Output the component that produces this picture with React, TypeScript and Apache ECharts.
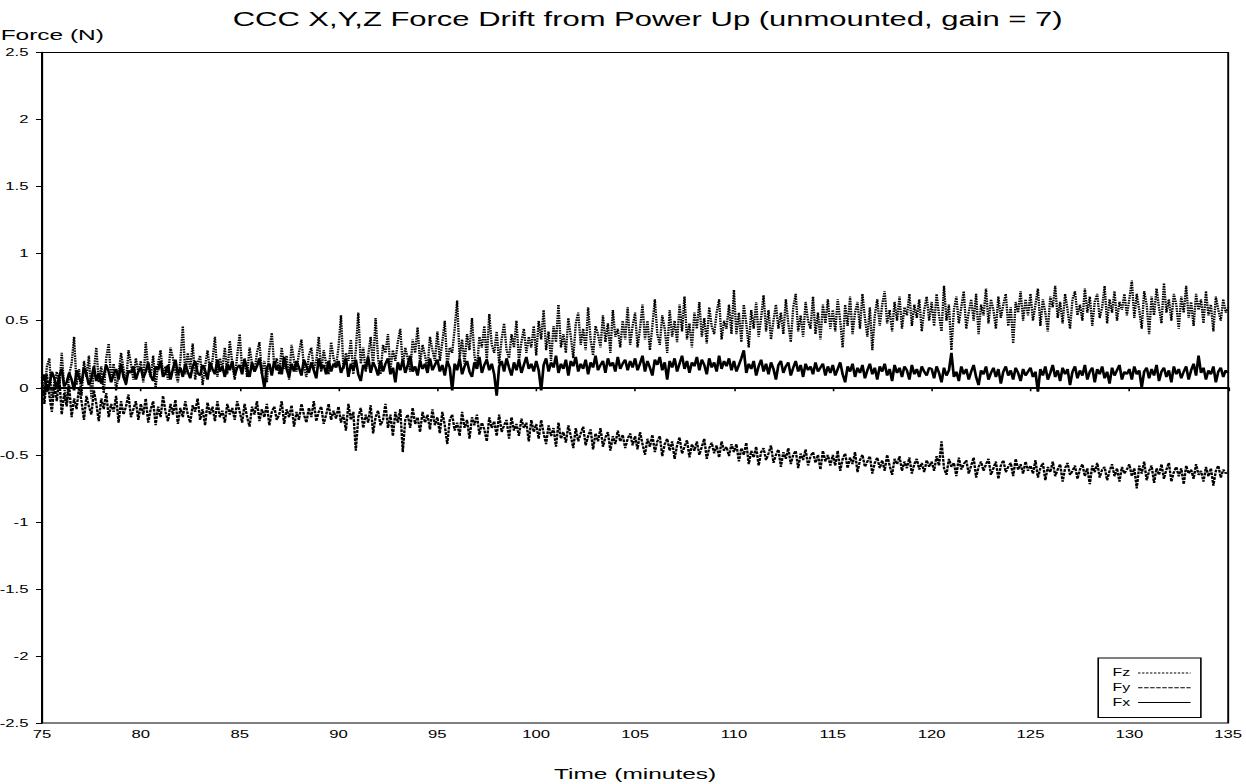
import React, { useEffect, useRef } from "react";
import * as echarts from "echarts";

const TITLE = "CCC X,Y,Z Force Drift from Power Up (unmounted, gain = 7)";
const X_NAME = "Time (minutes)";
const Y_NAME = "Force (N)";
const X_MIN = 75;
const X_MAX = 135;
const X_STEP = 5;
const Y_MIN = -2.5;
const Y_MAX = 2.5;
const Y_STEP = 0.5;
const T_START = 75;
const T_STEP = 0.125;
const SERIES_NAMES = ["Fz", "Fy", "Fx"];

const fz = [
  0.08, -0.06, 0.16, 0.22, -0.1, 0.04, 0.12, -0.02, 0.26, 0.0, -0.12, 0.1, 0.18, 0.38, 0.02, 0.14, -0.06, 0.2, 0.08, 0.24,
  -0.08, 0.12, 0.3, 0.04, 0.16, -0.04, 0.22, 0.33, 0.06, 0.18, -0.02, 0.1, 0.26, 0.14, 0.02, 0.28, 0.18, 0.06, 0.22, 0.12,
  0.2, 0.04, 0.34, 0.14, 0.08, 0.24, 0.0, 0.18, 0.28, 0.1, 0.16, 0.06, 0.3, 0.22, 0.12, 0.04, 0.2, 0.46, 0.1, 0.26,
  0.14, 0.33, 0.06, 0.18, 0.24, 0.02, 0.16, 0.28, 0.12, 0.2, 0.38, 0.08, 0.22, 0.14, 0.3, 0.1, 0.35, 0.18, 0.06, 0.24,
  0.4, 0.14, 0.22, 0.08, 0.3, 0.18, 0.12, 0.26, 0.34, 0.1, 0.2, 0.04, 0.28, 0.41, 0.16, 0.22, 0.1, 0.3, 0.14, 0.24,
  0.06, 0.32, 0.2, 0.12, 0.26, 0.36, 0.16, 0.08, 0.24, 0.3, 0.14, 0.2, 0.38, 0.12, 0.28, 0.18, 0.1, 0.34, 0.22, 0.16,
  0.3, 0.54, 0.14, 0.26, 0.2, 0.36, 0.1, 0.28, 0.56, 0.18, 0.3, 0.12, 0.24, 0.38, 0.16, 0.52, 0.22, 0.1, 0.32, 0.26,
  0.4, 0.14, 0.28, 0.2, 0.34, 0.44, 0.16, 0.3, 0.22, 0.12, 0.36, 0.26, 0.45, 0.18, 0.32, 0.24, 0.14, 0.38, 0.28, 0.2,
  0.42, 0.2, 0.34, 0.5, 0.16, 0.3, 0.26, 0.44, 0.65, 0.22, 0.36, 0.18, 0.4, 0.28, 0.52, 0.24, 0.14, 0.38, 0.3, 0.46,
  0.2, 0.55, 0.32, 0.26, 0.42, 0.18, 0.36, 0.48, 0.28, 0.22, 0.4, 0.3, 0.5, 0.2, 0.34, 0.44, 0.26, 0.38, 0.3, 0.46,
  0.24, 0.5, 0.36, 0.58, 0.28, 0.42, 0.2, 0.46, 0.34, 0.62, 0.3, 0.4, 0.26, 0.52, 0.38, 0.22, 0.48, 0.56, 0.32, 0.44,
  0.28, 0.6, 0.36, 0.24, 0.46, 0.4, 0.3, 0.54, 0.34, 0.48, 0.26, 0.58, 0.38, 0.44, 0.3, 0.5, 0.36, 0.6, 0.32, 0.46,
  0.56, 0.3, 0.44, 0.62, 0.36, 0.5, 0.28, 0.46, 0.66, 0.4, 0.32, 0.54, 0.44, 0.26, 0.58, 0.38, 0.5, 0.34, 0.62, 0.42,
  0.68, 0.36, 0.48, 0.3, 0.56, 0.44, 0.64, 0.38, 0.52, 0.33, 0.6, 0.46, 0.4, 0.56, 0.66, 0.36, 0.5, 0.44, 0.62, 0.4,
  0.73, 0.4, 0.56, 0.34, 0.62, 0.48, 0.3, 0.58, 0.44, 0.64, 0.38, 0.52, 0.69, 0.42, 0.58, 0.36, 0.5, 0.62, 0.44, 0.56,
  0.4, 0.66, 0.48, 0.34, 0.6, 0.7, 0.42, 0.54, 0.38, 0.64, 0.5, 0.44, 0.68, 0.4, 0.56, 0.36, 0.62, 0.48, 0.66, 0.44,
  0.58, 0.42, 0.66, 0.5, 0.3, 0.62, 0.46, 0.68, 0.4, 0.56, 0.64, 0.44, 0.7, 0.52, 0.38, 0.6, 0.28, 0.54, 0.66, 0.46,
  0.62, 0.72, 0.48, 0.58, 0.42, 0.64, 0.5, 0.68, 0.44, 0.6, 0.54, 0.7, 0.46, 0.62, 0.52, 0.66, 0.42, 0.58, 0.68, 0.5,
  0.64, 0.46, 0.7, 0.54, 0.42, 0.76, 0.5, 0.62, 0.28, 0.58, 0.68, 0.48, 0.6, 0.72, 0.44, 0.56, 0.66, 0.5, 0.7, 0.4,
  0.62, 0.54, 0.74, 0.48, 0.66, 0.58, 0.44, 0.68, 0.52, 0.62, 0.7, 0.46, 0.6, 0.33, 0.64, 0.56, 0.72, 0.5, 0.66, 0.54,
  0.7, 0.5, 0.62, 0.74, 0.46, 0.66, 0.56, 0.42, 0.68, 0.6, 0.76, 0.52, 0.64, 0.48, 0.7, 0.58, 0.44, 0.66, 0.72, 0.54,
  0.62, 0.5, 0.74, 0.56, 0.68, 0.46, 0.64, 0.7, 0.52, 0.6, 0.76, 0.48, 0.66, 0.56, 0.72, 0.5, 0.64, 0.58, 0.7, 0.54,
  0.66, 0.8, 0.52, 0.7, 0.58, 0.44, 0.72, 0.62, 0.4, 0.68, 0.54, 0.74, 0.6, 0.48, 0.78, 0.56, 0.66, 0.5, 0.7, 0.62,
  0.44, 0.68, 0.56, 0.76, 0.52, 0.64, 0.46, 0.7, 0.58, 0.66, 0.48, 0.72, 0.54, 0.62, 0.42, 0.68, 0.58, 0.5, 0.66, 0.56,
  0.6,
];

const fy = [
  0.04, -0.12, 0.1, -0.06, -0.18, 0.02, -0.1, 0.08, -0.2, -0.04, -0.14, 0.02, -0.22, -0.08, -0.16, 0.0, -0.1, -0.24, -0.06, -0.14,
  -0.2, -0.02, -0.12, -0.25, -0.08, -0.16, -0.04, -0.22, -0.12, -0.18, -0.06, -0.26, -0.1, -0.2, -0.14, -0.05, -0.22, -0.16, -0.1, -0.24,
  -0.12, -0.2, -0.08, -0.26, -0.16, -0.1, -0.28, -0.14, -0.22, -0.06, -0.18, -0.25, -0.12, -0.2, -0.09, -0.27, -0.15, -0.22, -0.1, -0.2,
  -0.26, -0.13, -0.18, -0.08, -0.24, -0.16, -0.28, -0.11, -0.2, -0.14, -0.25, -0.1, -0.22, -0.17, -0.26, -0.12, -0.2, -0.15, -0.24, -0.1,
  -0.18, -0.26, -0.12, -0.22, -0.29, -0.14, -0.2, -0.1, -0.25, -0.16, -0.22, -0.12, -0.28, -0.18, -0.14, -0.24, -0.2, -0.1, -0.27, -0.16,
  -0.22, -0.13, -0.29, -0.18, -0.24, -0.12, -0.2, -0.26, -0.15, -0.22, -0.1, -0.25, -0.18, -0.14, -0.27, -0.2, -0.12, -0.24, -0.17, -0.23,
  -0.14, -0.26, -0.2, -0.32, -0.12, -0.24, -0.18, -0.47, -0.22, -0.15, -0.3, -0.2, -0.26, -0.13, -0.34, -0.22, -0.17, -0.28, -0.24, -0.12,
  -0.3, -0.2, -0.36, -0.18, -0.26, -0.16, -0.48, -0.24, -0.2, -0.3, -0.15, -0.27, -0.22, -0.33, -0.18, -0.26, -0.2, -0.31, -0.16, -0.28,
  -0.22, -0.34, -0.18, -0.28, -0.42, -0.24, -0.2, -0.32, -0.26, -0.36, -0.18, -0.3, -0.24, -0.38, -0.22, -0.28, -0.2, -0.35, -0.26, -0.31,
  -0.4, -0.22, -0.3, -0.25, -0.36, -0.2, -0.33, -0.28, -0.24, -0.38, -0.22, -0.32, -0.27, -0.36, -0.23, -0.3, -0.26, -0.4, -0.24, -0.33,
  -0.27, -0.38, -0.24, -0.34, -0.42, -0.28, -0.36, -0.3, -0.44, -0.26, -0.38, -0.33, -0.41, -0.28, -0.36, -0.45, -0.3, -0.4, -0.34, -0.29,
  -0.43, -0.36, -0.31, -0.46, -0.34, -0.4, -0.3, -0.44, -0.37, -0.33, -0.47, -0.36, -0.42, -0.32, -0.4, -0.35, -0.45, -0.38, -0.34, -0.43,
  -0.36, -0.46, -0.33, -0.42, -0.5, -0.38, -0.44, -0.35, -0.48, -0.4, -0.36, -0.51, -0.42, -0.38, -0.47, -0.4, -0.53, -0.43, -0.37, -0.49,
  -0.44, -0.39, -0.52, -0.42, -0.47, -0.4, -0.5, -0.44, -0.38, -0.53, -0.45, -0.41, -0.49, -0.43, -0.52, -0.4, -0.47, -0.44, -0.51, -0.42,
  -0.48, -0.42, -0.55, -0.45, -0.5, -0.41, -0.57, -0.47, -0.52, -0.44, -0.58, -0.48, -0.45, -0.54, -0.49, -0.43, -0.56, -0.5, -0.46, -0.59,
  -0.48, -0.53, -0.45, -0.57, -0.5, -0.47, -0.6, -0.49, -0.54, -0.46, -0.58, -0.51, -0.48, -0.56, -0.5, -0.61, -0.47, -0.55, -0.5, -0.58,
  -0.5, -0.58, -0.47, -0.62, -0.53, -0.49, -0.6, -0.52, -0.57, -0.48, -0.63, -0.54, -0.5, -0.59, -0.55, -0.51, -0.64, -0.56, -0.52, -0.6,
  -0.54, -0.62, -0.5, -0.58, -0.65, -0.53, -0.57, -0.51, -0.62, -0.55, -0.6, -0.52, -0.64, -0.57, -0.53, -0.61, -0.56, -0.63, -0.54, -0.59,
  -0.55, -0.62, -0.51, -0.58, -0.4, -0.6, -0.65, -0.53, -0.59, -0.56, -0.66, -0.52, -0.61, -0.57, -0.54, -0.64, -0.58, -0.52, -0.67, -0.59,
  -0.55, -0.62, -0.57, -0.53, -0.65, -0.6, -0.55, -0.68, -0.58, -0.54, -0.63, -0.59, -0.56, -0.66, -0.53, -0.61, -0.57, -0.64, -0.55, -0.62,
  -0.58, -0.64, -0.54, -0.67, -0.6, -0.56, -0.69, -0.59, -0.63, -0.55, -0.66, -0.61, -0.57, -0.7, -0.6, -0.56, -0.65, -0.62, -0.58, -0.68,
  -0.61, -0.57, -0.66, -0.6, -0.72, -0.58, -0.63, -0.56, -0.67, -0.61, -0.59, -0.69, -0.62, -0.57, -0.66, -0.6, -0.7, -0.59, -0.64, -0.61,
  -0.57, -0.66, -0.6, -0.75, -0.58, -0.64, -0.55, -0.69, -0.62, -0.58, -0.71, -0.6, -0.65, -0.57, -0.68, -0.61, -0.56, -0.7, -0.63, -0.59,
  -0.66, -0.6, -0.72, -0.58, -0.64, -0.61, -0.68, -0.57, -0.65, -0.62, -0.7, -0.59, -0.66, -0.6, -0.73, -0.62, -0.58, -0.67, -0.61, -0.64,
  -0.62,
];

const fx = [
  0.05, 0.1, -0.03, 0.02, 0.12, 0.07, -0.01, 0.09, 0.14, 0.01, 0.04, 0.11, 0.06, -0.02, 0.13, 0.08, 0.03, 0.15, 0.1, 0.02,
  0.07, 0.16, 0.05, 0.11, 0.03, 0.09, 0.17, 0.12, 0.04, 0.1, 0.14, 0.06, 0.18, 0.08, 0.03, 0.13, 0.11, 0.16, 0.06, 0.12,
  0.15, 0.07, 0.12, 0.19, 0.09, 0.05, 0.16, 0.13, 0.2, 0.08, 0.11, 0.17, 0.06, 0.14, 0.21, 0.1, 0.15, 0.08, 0.18, 0.12,
  0.07, 0.16, 0.2, 0.11, 0.09, 0.17, 0.13, 0.06, 0.19, 0.14, 0.1, 0.21, 0.12, 0.16, 0.08, 0.18, 0.13, 0.2, 0.09, 0.15,
  0.17, 0.1, 0.21, 0.14, 0.08, 0.19, 0.12, 0.16, 0.22, 0.11, 0.0, 0.15, 0.18, 0.09, 0.2, 0.13, 0.17, 0.1, 0.23, 0.14,
  0.08, 0.18, 0.12, 0.2, 0.15, 0.09, 0.21, 0.16, 0.11, 0.19, 0.13, 0.07, 0.22, 0.14, 0.17, 0.1, 0.2, 0.12, 0.18, 0.15,
  0.2, 0.11, 0.16, 0.22, 0.08, 0.18, 0.13, 0.21, 0.1, 0.05, 0.17, 0.14, 0.23, 0.11, 0.19, 0.15, 0.09, 0.2, 0.12, 0.18,
  0.22, 0.1, 0.15, 0.04, 0.19, 0.13, 0.21, 0.11, 0.17, 0.24, 0.12, 0.16, 0.09, 0.2, 0.14, 0.18, 0.11, 0.22, 0.13, 0.17,
  0.21, 0.12, 0.17, 0.09, 0.2, 0.15, -0.02, 0.18, 0.13, 0.22, 0.1, 0.16, 0.2, 0.12, 0.08, 0.19, 0.14, 0.23, 0.11, 0.17,
  0.21, 0.13, 0.18, 0.1, -0.06, 0.16, 0.2, 0.12, 0.22, 0.15, 0.09, 0.19, 0.13, 0.21, 0.11, 0.17, 0.23, 0.14, 0.18, 0.12,
  0.2, 0.13, -0.02, 0.17, 0.22, 0.12, 0.19, 0.15, 0.24, 0.11, 0.18, 0.14, 0.21, 0.09, 0.2, 0.16, 0.23, 0.12, 0.18, 0.14,
  0.21, 0.1, 0.19, 0.15, 0.24, 0.13, 0.17, 0.2, 0.11, 0.22, 0.16, 0.19, 0.12, 0.23, 0.14, 0.18, 0.21, 0.13, 0.2, 0.15,
  0.22, 0.13, 0.18, 0.24, 0.12, 0.2, 0.15, 0.09, 0.21, 0.17, 0.23, 0.13, 0.19, 0.06, 0.2, 0.15, 0.22, 0.12, 0.18, 0.24,
  0.14, 0.2, 0.11, 0.19, 0.16, 0.23, 0.13, 0.21, 0.17, 0.1, 0.22, 0.15, 0.19, 0.12, 0.24, 0.14, 0.2, 0.16, 0.22, 0.13,
  0.2, 0.12, 0.17, 0.22, 0.28, 0.11, 0.18, 0.14, 0.2, 0.09, 0.16, 0.21, 0.12, 0.18, 0.1, 0.19, 0.14, 0.06, 0.17, 0.2,
  0.11, 0.16, 0.19, 0.09, 0.15, 0.2, 0.12, 0.17, 0.08, 0.18, 0.13, 0.16, 0.1, 0.19, 0.12, 0.15, 0.18, 0.09, 0.16, 0.11,
  0.17, 0.09, 0.14, 0.19, 0.1, 0.04, 0.16, 0.12, 0.18, 0.08, 0.15, 0.11, 0.17, 0.07, 0.13, 0.18, 0.1, 0.15, 0.06, 0.16,
  0.12, 0.18, 0.09, 0.14, 0.05, 0.17, 0.11, 0.15, 0.08, 0.16, 0.13, 0.06, 0.17, 0.1, 0.14, 0.08, 0.16, 0.12, 0.09, 0.15,
  0.14, 0.07, 0.16, 0.11, 0.04, 0.15, 0.09, 0.13, 0.26, 0.08, 0.12, 0.05, 0.16, 0.1, 0.14, 0.06, 0.12, 0.17, 0.08, 0.02,
  0.13, 0.1, 0.16, 0.06, 0.11, 0.15, 0.08, 0.14, 0.03, 0.12, 0.16, 0.09, 0.13, 0.06, 0.15, 0.11, 0.05, 0.14, 0.09, 0.12,
  0.15, 0.08, 0.12, -0.03, 0.14, 0.09, 0.16, 0.06, 0.11, 0.17, 0.08, 0.13, 0.05, 0.15, 0.1, 0.14, 0.02, 0.12, 0.16, 0.07,
  0.13, 0.09, 0.17, 0.06, 0.12, 0.15, 0.04, 0.14, 0.1, 0.16, 0.07, 0.12, 0.03, 0.15, 0.09, 0.13, 0.17, 0.06, 0.12, 0.1,
  0.14, 0.06, 0.16, 0.1, 0.13, 0.0, 0.12, 0.15, 0.07, 0.14, 0.09, 0.17, 0.05, 0.12, 0.15, 0.08, 0.13, 0.04, 0.16, 0.1,
  0.14, 0.07, 0.12, 0.16, 0.06, 0.13, 0.18, 0.09, 0.24, 0.11, 0.15, 0.06, 0.13, 0.1, 0.16, 0.04, 0.12, 0.15, 0.08, 0.13,
  0.11,
];

const FONT = '"Liberation Sans", Arial, Helvetica, sans-serif';
const STRETCH = 1246 / 784;

function pairs(values: number[]) {
  return values.map((v, i) => [T_START + i * T_STEP, v]);
}

export default function App() {
  const ref = useRef<HTMLDivElement>(null);

  useEffect(() => {
    if (!ref.current) return;
    const chart = echarts.init(ref.current, null, { renderer: "svg" });
    const styles: Record<string, any> = {
      Fz: { type: [1.5, 1.0], width: 1.5 },
      Fy: { type: [2.8, 1.0], width: 1.5 },
      Fx: { type: "solid", width: 1.7 },
    };
    const dataMap: Record<string, number[]> = { Fz: fz, Fy: fy, Fx: fx };
    chart.setOption({
      animation: false,
      backgroundColor: "#fff",
      textStyle: { fontFamily: FONT, color: "#000" },
      graphic: [
        {
          type: "text",
          x: 407.5,
          y: 19,
          style: {
            text: TITLE,
            fill: "#000",
            fontSize: 19.5,
            fontFamily: FONT,
            align: "center",
            verticalAlign: "middle",
            textAlign: "center",
            textVerticalAlign: "middle",
          },
        },
      ],
      grid: {
        left: 26.4,
        right: 11.2,
        top: 52.5,
        bottom: 61,
        show: true,
        borderColor: "#000",
        borderWidth: 1.2,
        containLabel: false,
        outerBoundsMode: "none",
      },
      legend: {
        data: SERIES_NAMES,
        orient: "vertical",
        left: 691,
        top: 658,
        align: "right",
        padding: [10, 6, 10, 9],
        itemGap: 4.7,
        itemWidth: 33,
        itemHeight: 10,
        borderColor: "#000",
        borderWidth: 1,
        backgroundColor: "#fff",
        borderRadius: 0,
        itemStyle: { opacity: 0 },
        lineStyle: { width: 1 },
        formatter: (name: string) => `{n|${name}}`,
        textStyle: {
          color: "#000",
          fontFamily: FONT,
          fontSize: 10,
          rich: { n: { width: 22, fontSize: 10, fontFamily: FONT, color: "#000" } },
        },
        selectedMode: false,
      },
      xAxis: {
        type: "value",
        min: X_MIN,
        max: X_MAX,
        interval: X_STEP,
        name: X_NAME,
        nameLocation: "middle",
        nameGap: 42.5,
        nameTextStyle: { fontSize: 15.4, fontFamily: FONT, color: "#000" },
        axisLine: { show: true, lineStyle: { color: "#000", width: 2 } },
        axisTick: { show: true, length: 3.5, lineStyle: { color: "#000", width: 1 } },
        axisLabel: { margin: 6, fontSize: 10.5, fontFamily: FONT, color: "#000" },
        splitLine: { show: false },
      },
      yAxis: {
        type: "value",
        min: Y_MIN,
        max: Y_MAX,
        interval: Y_STEP,
        name: Y_NAME,
        nameLocation: "end",
        nameGap: 11,
        nameTextStyle: { fontSize: 15.4, fontFamily: FONT, color: "#000", padding: [0, 0, 0, 13] },
        axisLine: { show: true, lineStyle: { color: "#000", width: 1.3 } },
        axisTick: { show: true, length: 3.8, lineStyle: { color: "#000", width: 1 } },
        axisLabel: { margin: 8.5, fontSize: 10.5, fontFamily: FONT, color: "#000" },
        splitLine: { show: false },
      },
      series: SERIES_NAMES.map((name) => ({
        name,
        type: "line",
        data: pairs(dataMap[name]),
        symbol: "none",
        showSymbol: false,
        lineStyle: { color: "#000", ...styles[name] },
        itemStyle: { color: "#000" },
        emphasis: { disabled: true },
      })),
    });
    return () => chart.dispose();
  }, []);

  return (
    <div
      style={{
        position: "fixed",
        left: 0,
        top: 0,
        width: 1246,
        height: 784,
        overflow: "hidden",
        background: "#fff",
      }}
    >
      <div
        ref={ref}
        style={{
          width: 784,
          height: 784,
          transform: `scaleX(${STRETCH})`,
          transformOrigin: "0 0",
        }}
      />
    </div>
  );
}
